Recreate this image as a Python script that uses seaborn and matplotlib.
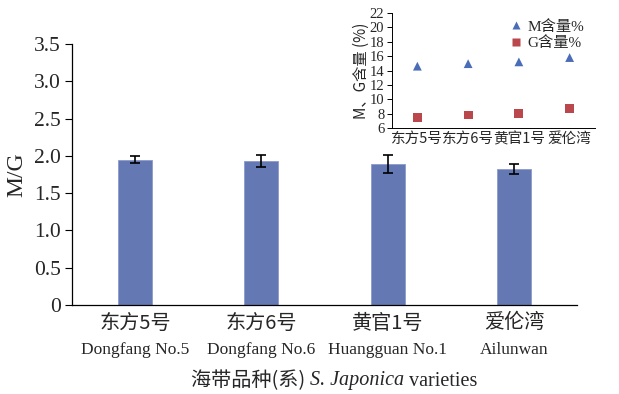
import matplotlib
matplotlib.use("Agg")
import matplotlib.pyplot as plt
import seaborn as sns
import pandas as pd
import numpy as np

# Varieties and measured values
varieties_cn = ["东方5号", "东方6号", "黄官1号", "爱伦湾"]
varieties_en = ["Dongfang No.5", "Dongfang No.6", "Huangguan No.1", "Ailunwan"]
mg_ratio = [1.95, 1.93, 1.89, 1.82]
mg_err = [0.05, 0.085, 0.125, 0.067]
m_content = [14.6, 14.95, 15.2, 15.8]
g_content = [7.45, 7.8, 8.0, 8.7]

sns.set_style("white")
FONTS = ["Liberation Serif", "Noto Sans CJK SC"]
plt.rcParams["font.family"] = FONTS
plt.rcParams["axes.unicode_minus"] = False

W, H = 619, 394
fig = plt.figure(figsize=(W / 100, H / 100), dpi=100)

# ---- main bar chart ----
ax = fig.add_axes([72 / W, 1 - 305 / H, (577 - 72) / W, (305 - 44) / H])
df = pd.DataFrame({"variety": varieties_cn, "ratio": mg_ratio})
sns.barplot(data=df, x="variety", y="ratio", color="#6479B4", width=0.27,
            saturation=1, errorbar=None, ax=ax, edgecolor="#8C9ACB", linewidth=0.6)
ax.errorbar(np.arange(len(mg_ratio)), mg_ratio, yerr=mg_err, fmt="none",
            ecolor="black", elinewidth=1.2, capsize=3.5, capthick=1.2)
ax.set_xlim(-0.5, 3.5)
ax.set_ylim(0, 3.5)
ax.set_yticks(np.arange(0, 3.51, 0.5))
ax.set_yticklabels(["0"] + [f"{v:.1f}" for v in np.arange(0.5, 3.51, 0.5)], fontsize=15.5)
ax.set_xticks([])
ax.set_xticks([0.5, 1.5, 2.5, 3.5], minor=True)
ax.tick_params(axis="x", which="minor", direction="in", length=5, width=0.8, color="black")
ax.tick_params(axis="y", direction="out", length=5, width=0.8, color="black", pad=3, left=True)
for s in ["top", "right"]:
    ax.spines[s].set_visible(False)
for s in ["left", "bottom"]:
    ax.spines[s].set_color("black")
    ax.spines[s].set_linewidth(0.9)
ax.set_xlabel("")
ax.set_ylabel("M/G", fontsize=17, labelpad=5)

# two-line category labels
for i, (cn, en) in enumerate(zip(varieties_cn, varieties_en)):
    ax.text(i, -18 / 261, cn, transform=ax.get_xaxis_transform(), ha="center", va="center",
            fontsize=14.5, family=["Noto Sans CJK SC"])
    ax.text(i, -45 / 261, en, transform=ax.get_xaxis_transform(), ha="center", va="center",
            fontsize=12.5)

# x-axis title with italic species name
fig.canvas.draw()
renderer = fig.canvas.get_renderer()
parts = [("海带品种(系) ", dict(family=["Noto Sans CJK SC"])),
         ("S. Japonica", dict(style="italic")),
         (" varieties", dict())]
texts = []
for s, kw in parts:
    t = fig.text(0, 1 - 381 / H, s, fontsize=14.5, va="center", ha="left", **kw)
    texts.append(t)
widths = [t.get_window_extent(renderer).width for t in texts]
x0 = 334 - sum(widths) / 2
for t, w in zip(texts, widths):
    t.set_x(x0 / W)
    x0 += w

# ---- inset scatter ----
ax2 = fig.add_axes([392 / W, 1 - 128 / H, (595 - 392) / W, (128 - 13) / H])
sdf = pd.DataFrame({
    "variety": list(range(4)) * 2,
    "value": m_content + g_content,
    "series": ["M含量%"] * 4 + ["G含量%"] * 4,
})
sns.scatterplot(data=sdf, x="variety", y="value", hue="series", style="series",
                markers={"M含量%": "^", "G含量%": "s"},
                palette={"M含量%": "#4A6DB8", "G含量%": "#B9474C"},
                s=40, edgecolor="none", ax=ax2)
ax2.set_xlim(-0.5, 3.5)
ax2.set_ylim(6, 22)
ax2.set_yticks(np.arange(6, 23, 2))
ax2.set_yticklabels([str(v) for v in range(6, 23, 2)], fontsize=10.5)
ax2.set_xticks(range(4))
ax2.set_xticklabels(varieties_cn, fontsize=10.5, family=["Noto Sans CJK SC"])
ax2.set_xticks([0.5, 1.5, 2.5, 3.5], minor=True)
ax2.tick_params(axis="x", which="major", length=0, pad=3)
ax2.tick_params(axis="x", which="minor", direction="out", length=4, width=0.7, color="black")
ax2.tick_params(axis="y", direction="out", length=3.5, width=0.7, color="black", left=True, pad=2)
ax2.patch.set_alpha(0)
for s in ["top", "right"]:
    ax2.spines[s].set_visible(False)
for s in ["left", "bottom"]:
    ax2.spines[s].set_color("black")
    ax2.spines[s].set_linewidth(0.7)
ax2.set_xlabel("")
ax2.set_ylabel("M、G含量 (%)", fontsize=11, labelpad=0, family=["Noto Sans CJK SC", "Liberation Serif"])
leg = ax2.legend(loc="upper right", bbox_to_anchor=(0.99, 1.02), frameon=False,
                 handletextpad=0.3, borderaxespad=0.2, labelspacing=0.15,
                 handlelength=0.8, prop={"family": ["Liberation Serif", "Noto Sans CJK SC"], "size": 11})

fig.savefig("out.png", dpi=100)
